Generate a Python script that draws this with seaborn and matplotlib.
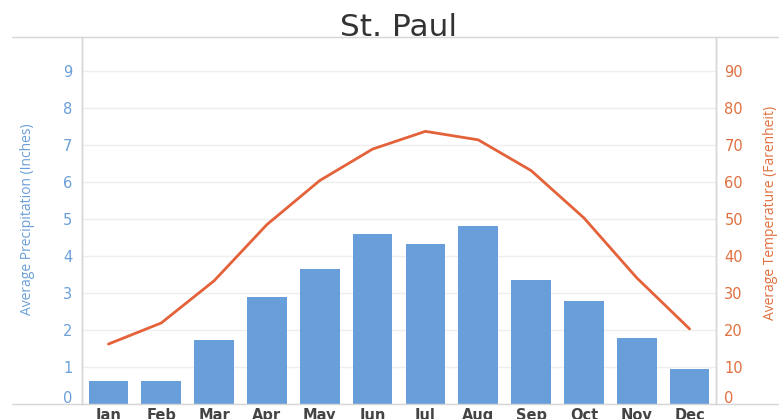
import numpy as np
import pandas as pd
import matplotlib
matplotlib.use("Agg")
import matplotlib.pyplot as plt
import matplotlib.transforms as mtransforms
from matplotlib.lines import Line2D
import seaborn as sns

months = ["Jan", "Feb", "Mar", "Apr", "May", "Jun", "Jul", "Aug", "Sep", "Oct", "Nov", "Dec"]
precip = [0.61, 0.63, 1.72, 2.88, 3.66, 4.60, 4.33, 4.82, 3.35, 2.79, 1.79, 0.95]
temps = [16.2, 21.9, 33.3, 48.5, 60.4, 68.9, 73.7, 71.4, 63.1, 50.3, 34.1, 20.3]
left_ticks = list(range(0, 10))
right_ticks = list(range(0, 100, 10))

BLUE = "#689FDB"
BLUE_TXT = "#6A9FD8"
ORANGE = "#E4623A"
ORANGE_TXT = "#E0703F"
GRID = "#EEEEEE"
AXLINE = "#D6D6D6"

sns.set_theme(style="white")
plt.rcParams["font.family"] = ["DejaVu Sans"]

W, H = 779, 419
fig = plt.figure(figsize=(W / 100, H / 100), dpi=100)
ax = fig.add_axes([82 / W, 1 - 404 / H, 634 / W, 367 / H])

df = pd.DataFrame({"month": months, "precip": precip, "pos": np.arange(len(months)), "temp": temps})

sns.barplot(data=df, x="month", y="precip", color=BLUE, saturation=1, width=0.75,
            linewidth=0, ax=ax, zorder=2)
ax.set_xlim(-0.5, 11.5)
ax.set_ylim(0, 9.92)
ax.set_yticks(left_ticks)
ax.set_yticklabels([str(t) for t in left_ticks])
ax.grid(axis="y", color=GRID, linewidth=1, zorder=0)
ax.set_axisbelow(True)

ax2 = ax.twinx()
sns.lineplot(data=df, x="pos", y="temp", color=ORANGE, linewidth=2, sort=False, ax=ax2)
ax2.set_ylim(0, 99.2)
ax2.set_yticks(right_ticks)
ax2.set_yticklabels([str(t) for t in right_ticks])
ax2.set_xlim(-0.5, 11.5)

for a in (ax, ax2):
    for s in ("top", "bottom"):
        a.spines[s].set_visible(False)
    a.spines["left"].set_color(AXLINE)
    a.spines["right"].set_color(AXLINE)
    a.spines["left"].set_linewidth(1)
    a.spines["right"].set_linewidth(1)

ax.set_xlabel("")
ax.set_ylabel("Average Precipitation (Inches)", color=BLUE_TXT, fontsize=10,
              family=["Open Sans", "DejaVu Sans"])
ax.yaxis.set_label_coords(-(82 - 35) / 634, (404 - 219) / 367)
ax2.set_ylabel("Average Temperature (Farenheit)", color=ORANGE_TXT, fontsize=10,
               family=["Open Sans", "DejaVu Sans"], rotation=90)
ax2.yaxis.set_label_coords(1 + (763 - 716) / 634, (404 - 213) / 367)
ax2.set_xlabel("")

ax.tick_params(axis="y", length=0, pad=7, labelsize=10.5, labelcolor=BLUE_TXT)
ax2.tick_params(axis="y", length=0, pad=6, labelsize=10.5, labelcolor=ORANGE_TXT)
ax.tick_params(axis="x", length=0, pad=3, labelsize=10.5, labelcolor="#444444")
ax2.tick_params(axis="x", length=0, labelbottom=False)
for lab in ax.get_xticklabels():
    lab.set_fontweight("bold")

# lift the "0" labels slightly above the baseline, as in the reference
off = mtransforms.ScaledTranslation(0, 7 / 100, fig.dpi_scale_trans)
for a in (ax, ax2):
    labs = a.get_yticklabels()
    labs[0].set_transform(labs[0].get_transform() + off)

# category separator ticks
ax.set_xticks(np.arange(-0.5, 12, 1), minor=True)
ax.tick_params(axis="x", which="minor", length=5, color=AXLINE, width=1, direction="out")

# horizontal frame lines extending past the plot area
fig.add_artist(Line2D([12 / W, 1], [1 - 37 / H, 1 - 37 / H], color=AXLINE, linewidth=1))
fig.add_artist(Line2D([12 / W, 1], [1 - 404 / H, 1 - 404 / H], color=AXLINE, linewidth=1))

fig.text(398.5 / W, 1 - 36.5 / H, "St. Paul", ha="center", va="baseline",
         fontsize=22.5, color="#333333")

fig.savefig("out.png", dpi=100)
